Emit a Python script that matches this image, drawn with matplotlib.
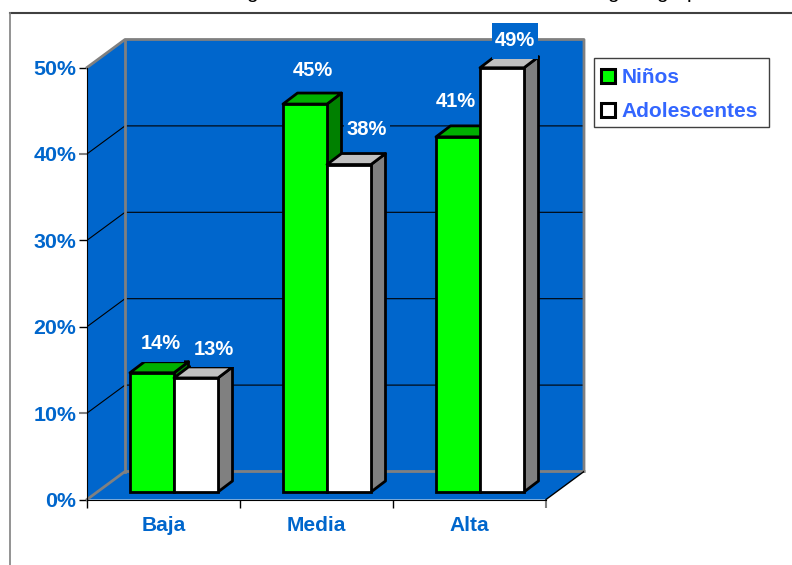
import matplotlib
matplotlib.use("Agg")
import matplotlib.pyplot as plt
from matplotlib.lines import Line2D
from matplotlib.patches import Patch, Polygon, Rectangle

plt.rcParams['font.family'] = ['Liberation Sans', 'DejaVu Sans']

categories = ["Baja", "Media", "Alta"]
ninos = [13.8, 44.9, 41.1]
adolescentes = [13.2, 37.9, 49.1]
y_ticks = [0, 10, 20, 30, 40, 50]
y_labels = ["0%", "10%", "20%", "30%", "40%", "50%"]

BLUE = "#0066CC"
GRAY = "#808080"

# scale of the axes, pixels per data unit
PX_X = 153
PX_Y = 8.64
# depth of the fake 3d box, in data units (category / percent)
DX = 38 / PX_X
DY = 28 / PX_Y
# bars stand a little inside the box
BASE = 0.87
BAR_W = 0.2876
BAR_LEFT = 0.281
BAR_DX = 14.5 / PX_X
BAR_DY = 11 / PX_Y

fig = plt.figure(figsize=(7.92, 5.65), dpi=100)
ax = fig.add_axes([87 / 792, (565 - 499.5) / 565, (584 - 87) / 792, (499.5 - 39.5) / 565])
ax.set_xlim(0, 3 + DX)
ax.set_ylim(0, 50 + DY)
ax.patch.set_visible(False)

#walls and floor
ax.add_patch(Polygon([(DX, DY), (3 + DX, DY), (3 + DX, 50 + DY), (DX, 50 + DY)], fc=BLUE, ec="none", zorder=1))
ax.add_patch(Polygon([(0, 0), (DX, DY), (DX, 50 + DY), (0, 50)], fc=BLUE, ec="none", zorder=1))
ax.add_patch(Polygon([(0, 0), (3, 0), (3 + DX, DY), (DX, DY)], fc=BLUE, ec="none", zorder=1))

#gridlines run along the side wall and then the back wall
for v in y_ticks[1:-1]:
    ax.plot([0, DX, 3 + DX], [v, v + DY, v + DY], color="black", lw=0.8, zorder=2)

#gray box edges
edge = dict(color=GRAY, lw=2, zorder=2, solid_capstyle="projecting", clip_on=False)
ax.plot([0, DX, 3 + DX, 3 + DX], [50, 50 + DY, 50 + DY, DY], **edge)
ax.plot([DX, DX], [DY, 50 + DY], **edge)
ax.plot([0, DX, 3 + DX], [0, DY, DY], **edge)
ax.plot([3, 3 + DX], [0, DY], color="black", lw=1, zorder=2)


def draw_bars(values, offset, front, top, side, z):
    lefts = [i + BAR_LEFT + offset for i in range(len(values))]
    for x, v in zip(lefts, values):
        y1 = BASE + v
        x2 = x + BAR_W
        ax.add_patch(Polygon([(x2, BASE), (x2 + BAR_DX, BASE + BAR_DY), (x2 + BAR_DX, y1 + BAR_DY), (x2, y1)],
                             fc=side, ec="black", lw=2, joinstyle="round", zorder=z))
        ax.add_patch(Polygon([(x, y1), (x2, y1), (x2 + BAR_DX, y1 + BAR_DY), (x + BAR_DX, y1 + BAR_DY)],
                             fc=top, ec="black", lw=2, joinstyle="round", zorder=z))
    ax.bar(lefts, values, width=BAR_W, bottom=BASE, align="edge", color=front, edgecolor="black", linewidth=2, zorder=z + 0.1)
    return lefts


left_n = draw_bars(ninos, 0, "#00FF00", "#00B000", "#008000", 3)
left_a = draw_bars(adolescentes, BAR_W, "#FFFFFF", "#C0C0C0", "#808080", 4)

#data labels sit on a blue box that hides what is under it, nudged by hand (pixels)
nudge_n = [(9, 29), (8, 34), (-2, 35)]
nudge_a = [(18, 28.5), (18, 35), (13, 27)]
BOX_W = 46 / PX_X
BOX_H = 36 / PX_Y
for lefts, values, nudges in ((left_n, ninos, nudge_n), (left_a, adolescentes, nudge_a)):
    for x, v, nudge in zip(lefts, values, nudges):
        cx = x + BAR_W / 2 + nudge[0] / PX_X
        cy = BASE + v + nudge[1] / PX_Y
        ax.add_patch(Rectangle((cx - BOX_W / 2, cy - BOX_H / 2), BOX_W, BOX_H, fc=BLUE, ec="none", zorder=5, clip_on=False))
        ax.text(cx, cy, "%d%%" % round(v), ha="center", va="center", color="white", fontsize=14.5,
                fontweight="bold", zorder=6, clip_on=False)

#axes
for s in ["top", "right"]:
    ax.spines[s].set_visible(False)
ax.spines["left"].set_bounds(0, 50)
ax.spines["bottom"].set_bounds(0, 3)
ax.spines["left"].set_zorder(2.5)
ax.spines["bottom"].set_zorder(2.5)
ax.set_yticks(y_ticks)
ax.set_yticklabels(y_labels, color=BLUE, fontsize=15.4, fontweight="bold")
ax.tick_params(axis="y", length=5.5, width=1, pad=2)
ax.set_xticks([0, 1, 2, 3])
ax.set_xticklabels([])
ax.set_xticks([0.5, 1.5, 2.5], minor=True)
ax.set_xticklabels(categories, minor=True, color=BLUE, fontsize=15, fontweight="bold")
ax.tick_params(axis="x", which="major", length=5.5, width=1)
ax.tick_params(axis="x", which="minor", length=0, pad=12)
#some ticks come out gray in the original
for tick in [ax.yaxis.get_major_ticks()[1], ax.yaxis.get_major_ticks()[4], ax.xaxis.get_major_ticks()[3]]:
    tick.tick1line.set_markeredgecolor(GRAY)
    tick.tick1line.set_markeredgewidth(1.5)

#legend, frame drawn apart because its box is tighter than the rows
fig.add_artist(Rectangle((594 / 792, 1 - 127 / 565), 175 / 792, 69 / 565, transform=fig.transFigure,
                         fc="white", ec="#404040", lw=1))
handles = [Patch(fc="#00FF00", ec="black", lw=2.2), Patch(fc="#FFFFFF", ec="black", lw=2.2)]
leg = fig.legend(handles, ["Niños", "Adolescentes"], loc="upper left", bbox_to_anchor=(591 / 792, 1 - 58 / 565),
                 borderaxespad=0, frameon=False, prop=dict(size=15, weight="bold"), handlelength=0.65,
                 handleheight=0.65, handletextpad=0.3, labelspacing=0.71, borderpad=0.5)
for t in leg.get_texts():
    t.set_color("#3366FF")

#outer chart frame, cut by the picture edge on the right and bottom
fig.add_artist(Line2D([10 / 792, 1], [1 - 13 / 565, 1 - 13 / 565], color="#404040", lw=1.5))
fig.add_artist(Line2D([10 / 792, 10 / 792], [0, 1 - 13 / 565], color="#808080", lw=1.2))

#title is cut off by the top of the picture, only these descenders can be seen
for px, ch in [(252, "g"), (613, "g"), (662, "g"), (692, "p")]:
    fig.text(px / 792, 1 + 2 / 565, ch, ha="center", va="baseline", fontsize=15, color="black")

fig.savefig("out.png", dpi=100)
